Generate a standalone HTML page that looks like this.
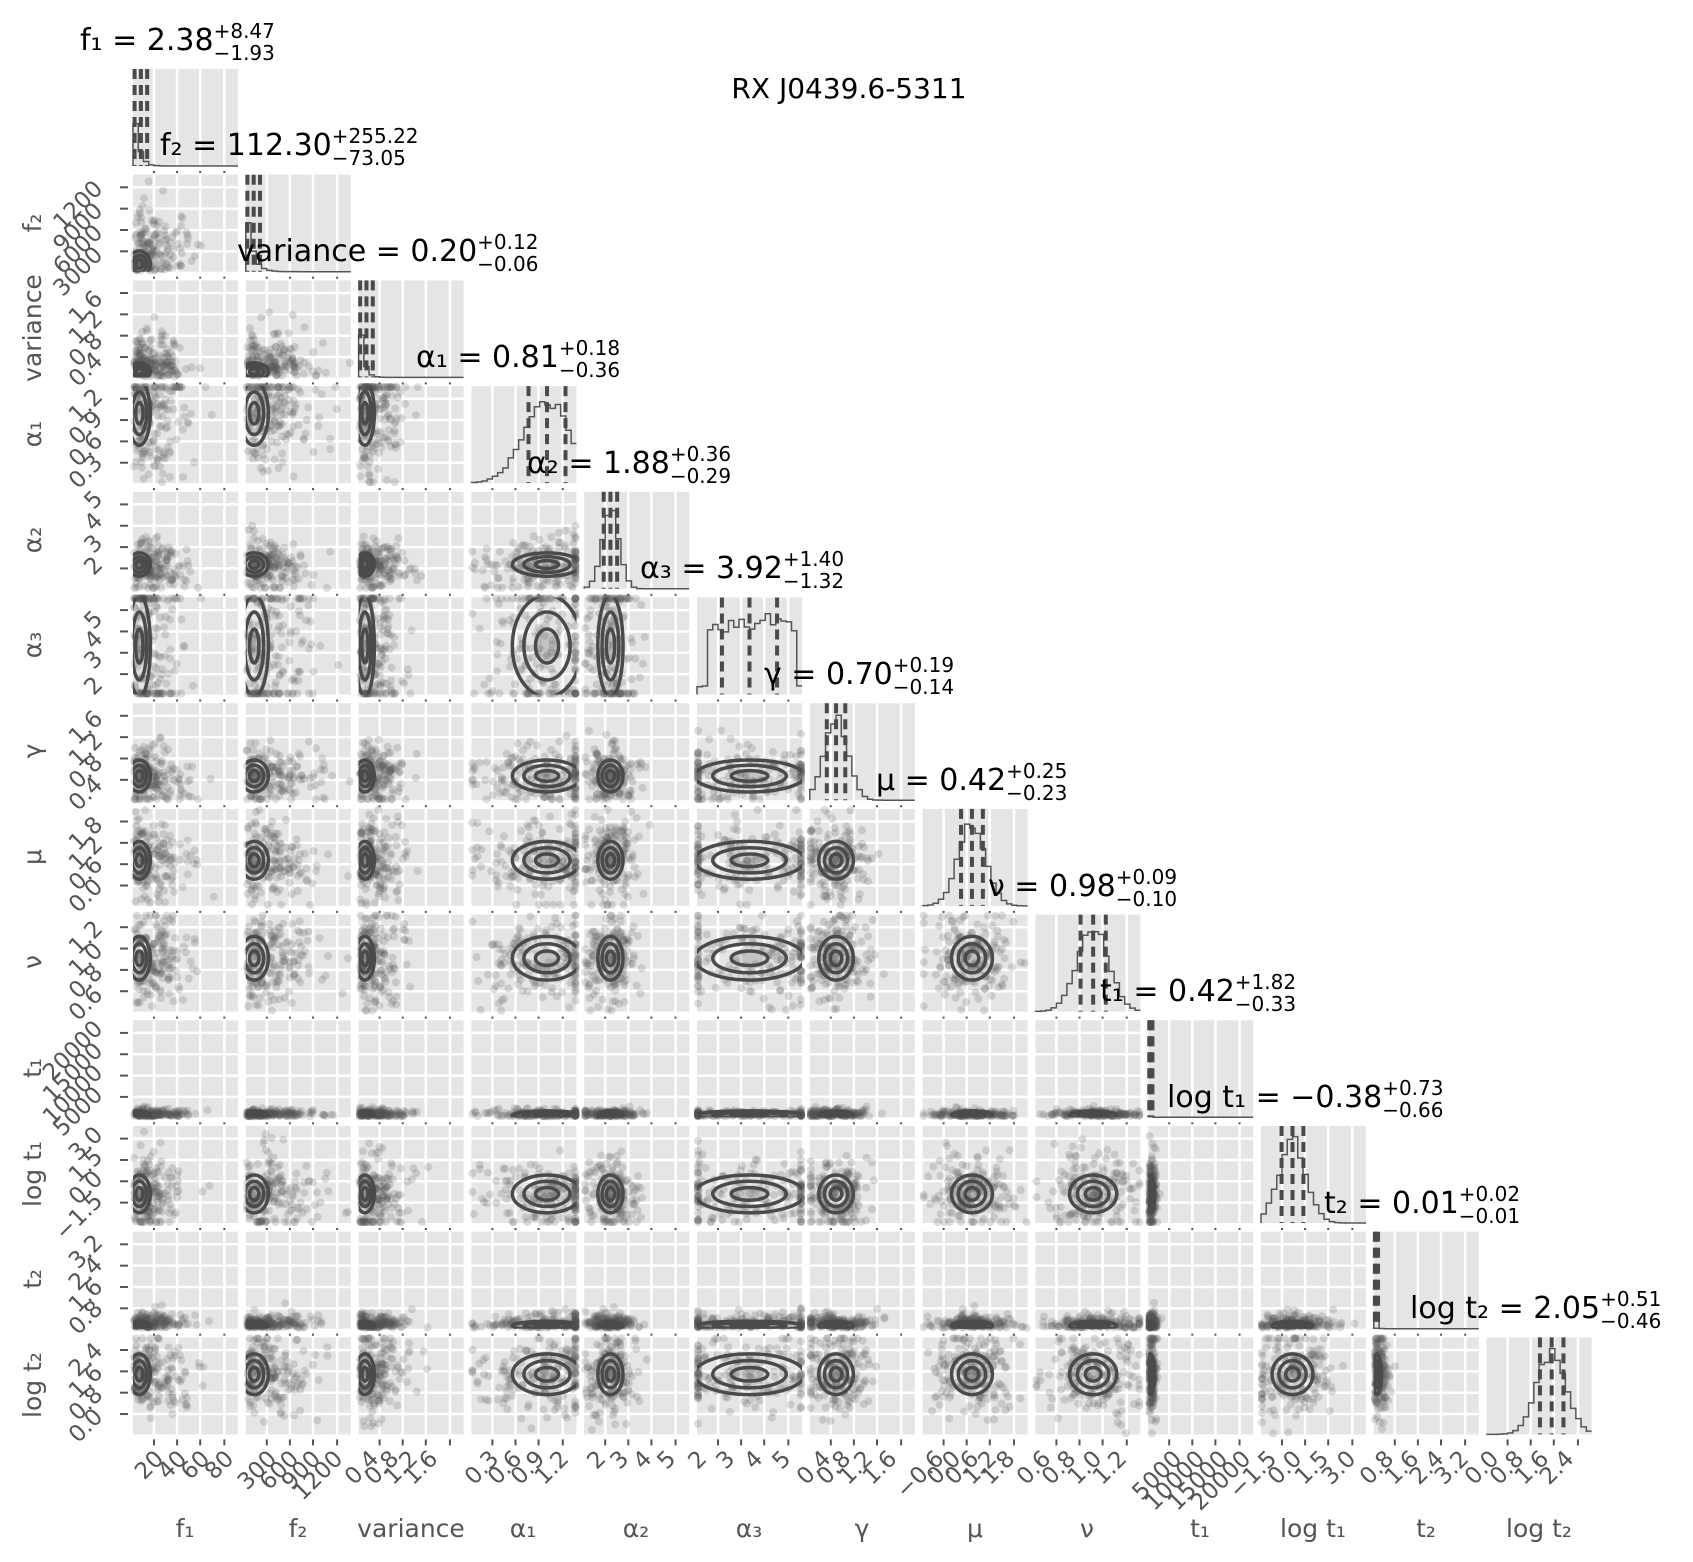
<!DOCTYPE html>
<html><head><meta charset="utf-8">
<style>
html,body{margin:0;padding:0;background:#fff;}
svg{display:block;}
text{font-family:"DejaVu Sans","Liberation Sans",sans-serif;}
.t{fill:#000;font-size:30px;}
.s{font-size:20px;}
.ax{fill:#555;font-size:25px;}
.tk{fill:#555;font-size:23px;}
</style></head>
<body>
<svg id="s" width="1693" height="1562" viewBox="0 0 1693 1562" xmlns="http://www.w3.org/2000/svg">
<g id="g"></g>
<g id="labels">
<text class="t" x="849" y="98" text-anchor="middle" style="font-size:28px">RX J0439.6-5311</text>

<text class="t" x="80" y="50">f₁ = 2.38<tspan class="s sup" dy="-12">+8.47</tspan><tspan class="s sub" dy="22">−1.93</tspan></text>
<text class="t" x="160" y="155">f₂ = 112.30<tspan class="s sup" dy="-12">+255.22</tspan><tspan class="s sub" dy="22">−73.05</tspan></text>
<text class="t" x="237" y="261">variance = 0.20<tspan class="s sup" dy="-12">+0.12</tspan><tspan class="s sub" dy="22">−0.06</tspan></text>
<text class="t" x="416" y="367">α₁ = 0.81<tspan class="s sup" dy="-12">+0.18</tspan><tspan class="s sub" dy="22">−0.36</tspan></text>
<text class="t" x="527" y="473">α₂ = 1.88<tspan class="s sup" dy="-12">+0.36</tspan><tspan class="s sub" dy="22">−0.29</tspan></text>
<text class="t" x="640" y="578">α₃ = 3.92<tspan class="s sup" dy="-12">+1.40</tspan><tspan class="s sub" dy="22">−1.32</tspan></text>
<text class="t" x="764" y="684">γ = 0.70<tspan class="s sup" dy="-12">+0.19</tspan><tspan class="s sub" dy="22">−0.14</tspan></text>
<text class="t" x="876" y="790">μ = 0.42<tspan class="s sup" dy="-12">+0.25</tspan><tspan class="s sub" dy="22">−0.23</tspan></text>
<text class="t" x="988" y="896">ν = 0.98<tspan class="s sup" dy="-12">+0.09</tspan><tspan class="s sub" dy="22">−0.10</tspan></text>
<text class="t" x="1100" y="1001">t₁ = 0.42<tspan class="s sup" dy="-12">+1.82</tspan><tspan class="s sub" dy="22">−0.33</tspan></text>
<text class="t" x="1167" y="1107">log t₁ = −0.38<tspan class="s sup" dy="-12">+0.73</tspan><tspan class="s sub" dy="22">−0.66</tspan></text>
<text class="t" x="1324" y="1213">t₂ = 0.01<tspan class="s sup" dy="-12">+0.02</tspan><tspan class="s sub" dy="22">−0.01</tspan></text>
<text class="t" x="1410" y="1318">log t₂ = 2.05<tspan class="s sup" dy="-12">+0.51</tspan><tspan class="s sub" dy="22">−0.46</tspan></text>

<text class="ax" x="185" y="1537" text-anchor="middle">f₁</text>
<text class="ax" x="298" y="1537" text-anchor="middle">f₂</text>
<text class="ax" x="411" y="1537" text-anchor="middle">variance</text>
<text class="ax" x="523" y="1537" text-anchor="middle">α₁</text>
<text class="ax" x="636" y="1537" text-anchor="middle">α₂</text>
<text class="ax" x="749" y="1537" text-anchor="middle">α₃</text>
<text class="ax" x="862" y="1537" text-anchor="middle">γ</text>
<text class="ax" x="975" y="1537" text-anchor="middle">μ</text>
<text class="ax" x="1087" y="1537" text-anchor="middle">ν</text>
<text class="ax" x="1200" y="1537" text-anchor="middle">t₁</text>
<text class="ax" x="1313" y="1537" text-anchor="middle">log t₁</text>
<text class="ax" x="1426" y="1537" text-anchor="middle">t₂</text>
<text class="ax" x="1539" y="1537" text-anchor="middle">log t₂</text>

<text class="ax" transform="translate(41,223) rotate(-90)" text-anchor="middle">f₂</text>
<text class="ax" transform="translate(41,328) rotate(-90)" text-anchor="middle">variance</text>
<text class="ax" transform="translate(41,434) rotate(-90)" text-anchor="middle">α₁</text>
<text class="ax" transform="translate(41,540) rotate(-90)" text-anchor="middle">α₂</text>
<text class="ax" transform="translate(41,645) rotate(-90)" text-anchor="middle">α₃</text>
<text class="ax" transform="translate(41,751) rotate(-90)" text-anchor="middle">γ</text>
<text class="ax" transform="translate(41,857) rotate(-90)" text-anchor="middle">μ</text>
<text class="ax" transform="translate(41,962) rotate(-90)" text-anchor="middle">ν</text>
<text class="ax" transform="translate(41,1068) rotate(-90)" text-anchor="middle">t₁</text>
<text class="ax" transform="translate(41,1174) rotate(-90)" text-anchor="middle">log t₁</text>
<text class="ax" transform="translate(41,1279) rotate(-90)" text-anchor="middle">t₂</text>
<text class="ax" transform="translate(41,1385) rotate(-90)" text-anchor="middle">log t₂</text>
</g>
<g id="ticklabels">
<text class="tk" text-anchor="end" transform="translate(165,1460) rotate(-45)">20</text>
<text class="tk" text-anchor="end" transform="translate(188,1460) rotate(-45)">40</text>
<text class="tk" text-anchor="end" transform="translate(211,1460) rotate(-45)">60</text>
<text class="tk" text-anchor="end" transform="translate(235,1460) rotate(-45)">80</text>
<text class="tk" text-anchor="end" transform="translate(278,1460) rotate(-45)">300</text>
<text class="tk" text-anchor="end" transform="translate(300,1460) rotate(-45)">600</text>
<text class="tk" text-anchor="end" transform="translate(322,1460) rotate(-45)">900</text>
<text class="tk" text-anchor="end" transform="translate(344,1460) rotate(-45)">1200</text>
<text class="tk" text-anchor="end" transform="translate(380,1460) rotate(-45)">0.4</text>
<text class="tk" text-anchor="end" transform="translate(400,1460) rotate(-45)">0.8</text>
<text class="tk" text-anchor="end" transform="translate(419,1460) rotate(-45)">1.2</text>
<text class="tk" text-anchor="end" transform="translate(439,1460) rotate(-45)">1.6</text>
<text class="tk" text-anchor="end" transform="translate(500,1460) rotate(-45)">0.3</text>
<text class="tk" text-anchor="end" transform="translate(523,1460) rotate(-45)">0.6</text>
<text class="tk" text-anchor="end" transform="translate(546,1460) rotate(-45)">0.9</text>
<text class="tk" text-anchor="end" transform="translate(570,1460) rotate(-45)">1.2</text>
<text class="tk" text-anchor="end" transform="translate(607,1460) rotate(-45)">2</text>
<text class="tk" text-anchor="end" transform="translate(630,1460) rotate(-45)">3</text>
<text class="tk" text-anchor="end" transform="translate(653,1460) rotate(-45)">4</text>
<text class="tk" text-anchor="end" transform="translate(677,1460) rotate(-45)">5</text>
<text class="tk" text-anchor="end" transform="translate(708,1460) rotate(-45)">2</text>
<text class="tk" text-anchor="end" transform="translate(736,1460) rotate(-45)">3</text>
<text class="tk" text-anchor="end" transform="translate(764,1460) rotate(-45)">4</text>
<text class="tk" text-anchor="end" transform="translate(792,1460) rotate(-45)">5</text>
<text class="tk" text-anchor="end" transform="translate(832,1460) rotate(-45)">0.4</text>
<text class="tk" text-anchor="end" transform="translate(852,1460) rotate(-45)">0.8</text>
<text class="tk" text-anchor="end" transform="translate(874,1460) rotate(-45)">1.2</text>
<text class="tk" text-anchor="end" transform="translate(898,1460) rotate(-45)">1.6</text>
<text class="tk" text-anchor="end" transform="translate(945,1460) rotate(-45)">−0.6</text>
<text class="tk" text-anchor="end" transform="translate(962,1460) rotate(-45)">0.0</text>
<text class="tk" text-anchor="end" transform="translate(980,1460) rotate(-45)">0.6</text>
<text class="tk" text-anchor="end" transform="translate(998,1460) rotate(-45)">1.2</text>
<text class="tk" text-anchor="end" transform="translate(1016,1460) rotate(-45)">1.8</text>
<text class="tk" text-anchor="end" transform="translate(1052,1460) rotate(-45)">0.6</text>
<text class="tk" text-anchor="end" transform="translate(1077,1460) rotate(-45)">0.8</text>
<text class="tk" text-anchor="end" transform="translate(1103,1460) rotate(-45)">1.0</text>
<text class="tk" text-anchor="end" transform="translate(1128,1460) rotate(-45)">1.2</text>
<text class="tk" text-anchor="end" transform="translate(1183,1460) rotate(-45)">5000</text>
<text class="tk" text-anchor="end" transform="translate(1206,1460) rotate(-45)">10000</text>
<text class="tk" text-anchor="end" transform="translate(1229,1460) rotate(-45)">15000</text>
<text class="tk" text-anchor="end" transform="translate(1252,1460) rotate(-45)">20000</text>
<text class="tk" text-anchor="end" transform="translate(1278,1460) rotate(-45)">−1.5</text>
<text class="tk" text-anchor="end" transform="translate(1303,1460) rotate(-45)">0.0</text>
<text class="tk" text-anchor="end" transform="translate(1330,1460) rotate(-45)">1.5</text>
<text class="tk" text-anchor="end" transform="translate(1357,1460) rotate(-45)">3.0</text>
<text class="tk" text-anchor="end" transform="translate(1395,1460) rotate(-45)">0.8</text>
<text class="tk" text-anchor="end" transform="translate(1420,1460) rotate(-45)">1.6</text>
<text class="tk" text-anchor="end" transform="translate(1445,1460) rotate(-45)">2.4</text>
<text class="tk" text-anchor="end" transform="translate(1470,1460) rotate(-45)">3.2</text>
<text class="tk" text-anchor="end" transform="translate(1500,1460) rotate(-45)">0.0</text>
<text class="tk" text-anchor="end" transform="translate(1525,1460) rotate(-45)">0.8</text>
<text class="tk" text-anchor="end" transform="translate(1550,1460) rotate(-45)">1.6</text>
<text class="tk" text-anchor="end" transform="translate(1575,1460) rotate(-45)">2.4</text>
<text class="tk" text-anchor="end" transform="translate(104,190) rotate(-45)">1200</text>
<text class="tk" text-anchor="end" transform="translate(104,212) rotate(-45)">9000</text>
<text class="tk" text-anchor="end" transform="translate(104,234) rotate(-45)">6000</text>
<text class="tk" text-anchor="end" transform="translate(104,256) rotate(-45)">3000</text>
<text class="tk" text-anchor="end" transform="translate(104,300) rotate(-45)">1.6</text>
<text class="tk" text-anchor="end" transform="translate(104,320) rotate(-45)">1.2</text>
<text class="tk" text-anchor="end" transform="translate(104,342) rotate(-45)">0.8</text>
<text class="tk" text-anchor="end" transform="translate(104,362) rotate(-45)">0.4</text>
<text class="tk" text-anchor="end" transform="translate(104,398) rotate(-45)">1.2</text>
<text class="tk" text-anchor="end" transform="translate(104,420) rotate(-45)">0.9</text>
<text class="tk" text-anchor="end" transform="translate(104,442) rotate(-45)">0.6</text>
<text class="tk" text-anchor="end" transform="translate(104,464) rotate(-45)">0.3</text>
<text class="tk" text-anchor="end" transform="translate(104,500) rotate(-45)">5</text>
<text class="tk" text-anchor="end" transform="translate(104,522) rotate(-45)">4</text>
<text class="tk" text-anchor="end" transform="translate(104,544) rotate(-45)">3</text>
<text class="tk" text-anchor="end" transform="translate(104,566) rotate(-45)">2</text>
<text class="tk" text-anchor="end" transform="translate(104,620) rotate(-45)">5</text>
<text class="tk" text-anchor="end" transform="translate(104,640) rotate(-45)">4</text>
<text class="tk" text-anchor="end" transform="translate(104,660) rotate(-45)">3</text>
<text class="tk" text-anchor="end" transform="translate(104,686) rotate(-45)">2</text>
<text class="tk" text-anchor="end" transform="translate(104,720) rotate(-45)">1.6</text>
<text class="tk" text-anchor="end" transform="translate(104,742) rotate(-45)">1.2</text>
<text class="tk" text-anchor="end" transform="translate(104,764) rotate(-45)">0.8</text>
<text class="tk" text-anchor="end" transform="translate(104,786) rotate(-45)">0.4</text>
<text class="tk" text-anchor="end" transform="translate(104,826) rotate(-45)">1.8</text>
<text class="tk" text-anchor="end" transform="translate(104,846) rotate(-45)">1.2</text>
<text class="tk" text-anchor="end" transform="translate(104,866) rotate(-45)">0.6</text>
<text class="tk" text-anchor="end" transform="translate(104,888) rotate(-45)">0.0</text>
<text class="tk" text-anchor="end" transform="translate(104,930) rotate(-45)">1.2</text>
<text class="tk" text-anchor="end" transform="translate(104,952) rotate(-45)">1.0</text>
<text class="tk" text-anchor="end" transform="translate(104,974) rotate(-45)">0.8</text>
<text class="tk" text-anchor="end" transform="translate(104,996) rotate(-45)">0.6</text>
<text class="tk" text-anchor="end" transform="translate(104,1030) rotate(-45)">20000</text>
<text class="tk" text-anchor="end" transform="translate(104,1052) rotate(-45)">15000</text>
<text class="tk" text-anchor="end" transform="translate(104,1074) rotate(-45)">10000</text>
<text class="tk" text-anchor="end" transform="translate(104,1096) rotate(-45)">5000</text>
<text class="tk" text-anchor="end" transform="translate(104,1136) rotate(-45)">3.0</text>
<text class="tk" text-anchor="end" transform="translate(104,1158) rotate(-45)">1.5</text>
<text class="tk" text-anchor="end" transform="translate(104,1180) rotate(-45)">0.0</text>
<text class="tk" text-anchor="end" transform="translate(104,1202) rotate(-45)">−1.5</text>
<text class="tk" text-anchor="end" transform="translate(104,1244) rotate(-45)">3.2</text>
<text class="tk" text-anchor="end" transform="translate(104,1266) rotate(-45)">2.4</text>
<text class="tk" text-anchor="end" transform="translate(104,1288) rotate(-45)">1.6</text>
<text class="tk" text-anchor="end" transform="translate(104,1310) rotate(-45)">0.8</text>
<text class="tk" text-anchor="end" transform="translate(104,1352) rotate(-45)">2.4</text>
<text class="tk" text-anchor="end" transform="translate(104,1374) rotate(-45)">1.6</text>
<text class="tk" text-anchor="end" transform="translate(104,1396) rotate(-45)">0.8</text>
<text class="tk" text-anchor="end" transform="translate(104,1418) rotate(-45)">0.0</text>
</g>
</svg>
<script>
(function(){
var N=13, X0=133, DX=112.8, W=105, Y0=69, DY=105.7, H=97;
var cen=[0.06,0.08,0.06,0.72,0.25,0.5,0.25,0.47,0.55,0.02,0.3,0.03,0.62];
var sd =[0.07,0.09,0.06,0.22,0.08,0.35,0.11,0.13,0.15,0.01,0.13,0.02,0.14];
var s=12345;function r(){s=(s*16807)%2147483647;return s/2147483647;}
function gn(){var u=r()||1e-9,v=r();return Math.sqrt(-2*Math.log(u))*Math.cos(6.283*v);}
var grid=[0.2,0.42,0.64,0.87];
var out=[];
function clip(v){return Math.max(0.01,Math.min(0.99,v));}
var skew={0:1,1:1,2:1,9:1,11:1};
for(var j=0;j<N;j++){for(var i=0;i<=j;i++){
 var x=X0+DX*i,y=Y0+DY*j,k;
 out.push('<rect x="'+x+'" y="'+y+'" width="'+W+'" height="'+H+'" fill="#e5e5e5"/>');
 for(k=0;k<4;k++){var gx=x+W*grid[k];out.push('<line x1="'+gx+'" y1="'+y+'" x2="'+gx+'" y2="'+(y+H)+'" stroke="#fff" stroke-width="2.5"/>');
  out.push('<line x1="'+gx+'" y1="'+(y+H+5)+'" x2="'+gx+'" y2="'+(y+H+(j==N-1?11:7))+'" stroke="#555" stroke-width="2"/>');}
 if(i<j){for(k=0;k<4;k++){var gy=y+H*(0.13+0.22*k);out.push('<line x1="'+x+'" y1="'+gy+'" x2="'+(x+W)+'" y2="'+gy+'" stroke="#fff" stroke-width="2.5"/>');
   if(i==0)out.push('<line x1="'+(x-13)+'" y1="'+gy+'" x2="'+(x-5)+'" y2="'+gy+'" stroke="#555" stroke-width="2"/>');}}
 if(i==j){
  var pts=[],nb=20,c=cen[i],sdv=sd[i];
  for(var b=0;b<nb;b++){var fx=(b+0.5)/nb;var v;
   if(skew[i]){v=Math.exp(-fx/(sdv*0.6));}
   else v=Math.exp(-0.5*Math.pow((fx-c)/sdv,2));
   if(i==5)v=(fx>0.08&&fx<0.95)?0.75+0.2*r():0.1;
   v=v*(0.85+0.15*r());var py=y+H-(H-8)*v;
   pts.push((x+W*b/nb)+','+py);pts.push((x+W*(b+1)/nb)+','+py);}
  out.push('<polyline points="'+(x)+','+(y+H)+' '+pts.join(' ')+'" fill="none" stroke="#555" stroke-width="1.5"/>');
  var q=[-1,0,1];
  for(k=0;k<3;k++){var off=skew[i]?(0.015+0.06*k)*(i==9||i==11?0.3:1):q[k]*sdv*(i==5?0.75:0.8);
   var qx=x+W*clip(skew[i]?off:c+off);
   out.push('<line x1="'+qx+'" y1="'+y+'" x2="'+qx+'" y2="'+(y+H)+'" stroke="#4a4a4a" stroke-width="4" stroke-dasharray="10,6"/>');}
 } else {
  var cx=cen[i],cy=cen[j],sx=sd[i],sy=sd[j];
  var np=180;
  for(k=0;k<np;k++){var px=cx+gn()*sx*1.5,py=cy+gn()*sy*1.5;
   if(skew[i])px=Math.abs(px-cx)*2.2+0.01; if(skew[j])py=Math.abs(py-cy)*2.2+0.01;
   px=clip(px);py=clip(py);
   out.push('<circle cx="'+(x+W*px).toFixed(1)+'" cy="'+(y+H*(1-py)).toFixed(1)+'" r="4" fill="#555" fill-opacity="0.2"/>');}
  var ex=x+W*cx,ey=y+H*(1-cy);
  var rx=Math.max(3,W*sx),ry=Math.max(3,H*sy);
  out.push('<g><clipPath id="c'+i+'_'+j+'"><rect x="'+x+'" y="'+y+'" width="'+W+'" height="'+H+'"/></clipPath><g clip-path="url(#c'+i+'_'+j+')">');
  out.push('<ellipse cx="'+ex+'" cy="'+ey+'" rx="'+rx*0.5+'" ry="'+ry*0.5+'" fill="#777" fill-opacity="0.3" stroke="#4a4a4a" stroke-width="3.5"/>');
  out.push('<ellipse cx="'+ex+'" cy="'+ey+'" rx="'+rx*1.0+'" ry="'+ry*1.0+'" fill="none" stroke="#4a4a4a" stroke-width="3.5"/>');
  out.push('<ellipse cx="'+ex+'" cy="'+ey+'" rx="'+rx*1.5+'" ry="'+ry*1.5+'" fill="none" stroke="#4a4a4a" stroke-width="3.5"/>');
  out.push('</g></g>');
 }
}}
document.getElementById('g').innerHTML=out.join('');
var sups=document.querySelectorAll('tspan.sup');
for(var m=0;m<sups.length;m++){var w=sups[m].getComputedTextLength();sups[m].nextElementSibling.setAttribute('dx',-w);}
})();
</script>
</body></html>
